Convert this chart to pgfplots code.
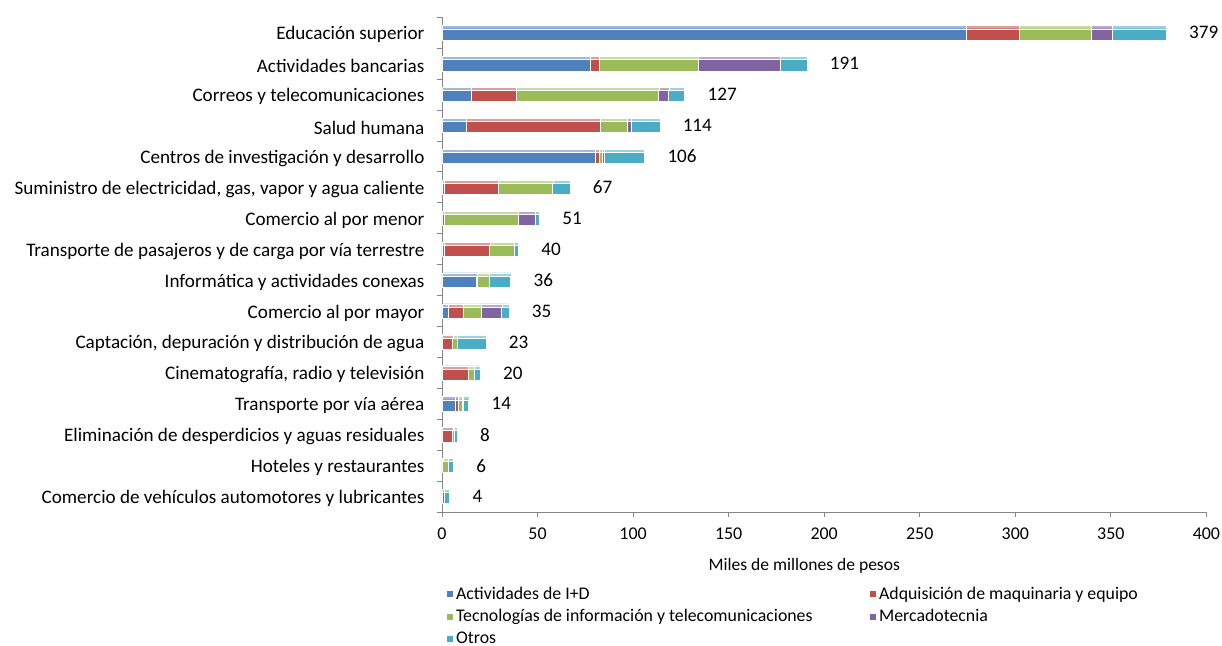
\documentclass[border=0pt]{standalone}
\usepackage{fontspec}
\setmainfont{Carlito}
\usepackage{pgfplots}
\pgfplotsset{compat=1.18}
\usepackage{pgfplotstable}

\definecolor{cID}{HTML}{4F81BD}
\definecolor{cMaq}{HTML}{C0504D}
\definecolor{cTic}{HTML}{9BBB59}
\definecolor{cMer}{HTML}{8064A2}
\definecolor{cOtr}{HTML}{4BACC6}
\definecolor{axgray}{RGB}{134,134,134}

% miles de millones de pesos, por sector (0 = arriba)
\pgfplotstableread{
y  id    maq   tic   merc  otros total
0  274.4 27.9  37.4  11.0  28.3  379
1  77.6  4.9   51.7  42.6  14.2  191
2  15.2  23.6  74.6  5.3   8.3   127
3  12.6  70.4  14.0  2.1   14.9  114
4  80.4  2.1   1.3   1.3   20.9  106
5  1.0   28.5  28.5  0.0   9.0   67
6  0.0   1.0   39.0  9.0   2.0   51
7  1.0   24.0  13.0  0.0   2.0   40
8  18.2  0.3   6.3   0.0   11.2  36
9  3.5   7.7   9.2   10.9  3.7   35
10 0.3   5.3   2.6   0.0   14.8  23
11 0.3   13.5  3.2   0.0   3.0   20
12 6.8   1.8   2.2   0.5   2.7   14
13 0.3   5.3   0.9   0.0   1.5   8
14 0.2   0.2   3.1   0.0   2.5   6
15 0.0   1.2   0.2   0.0   2.6   4
}\datos

\pgfplotsset{
  marco/.style={
    scale only axis,
    width=573.3bp, height=371bp,
    xmin=0, xmax=400,
    ymin=-0.5, ymax=15.5, y dir=reverse,
  },
}

\begin{document}
\begin{tikzpicture}
\path[use as bounding box] (-331.5bp,-100.5bp) rectangle ++(916.5bp,484.5bp);
\begin{axis}[
  marco, xbar stacked,
  bar width=10.75bp,
  axis x line*=bottom, axis y line*=left,
  axis line style={draw=axgray, line width=0.7bp},
  tick style={draw=axgray, line width=0.7bp},
  tick align=outside,
  major tick length=4bp, minor tick length=4bp,
  xtick={0,50,...,400},
  ytick={0,...,15},
  major y tick style={draw=none},
  minor ytick={-0.5,0.5,...,15.5},
  yticklabels={
    Educación superior,
    Actividades bancarias,
    Correos y telecomunicaciones,
    Salud humana,
    Centros de investigación y desarrollo,
    {Suministro de electricidad, gas, vapor y agua caliente},
    Comercio al por menor,
    Transporte de pasajeros y de carga por vía terrestre,
    Informática y actividades conexas,
    Comercio al por mayor,
    {Captación, depuración y distribución de agua},
    {Cinematografía, radio y televisión},
    Transporte por vía aérea,
    Eliminación de desperdicios y aguas residuales,
    Hoteles y restaurantes,
    Comercio de vehículos automotores y lubricantes},
  xticklabel style={font=\fontsize{13.5}{16}\selectfont, anchor=north,
    inner sep=0pt, yshift=-8bp},
  yticklabel style={font=\fontsize{14.4}{17}\selectfont, anchor=east,
    inner sep=0pt, xshift=-9bp, yshift=-1.5bp},
  /pgf/number format/assume math mode=true,
  xlabel={Miles de millones de pesos},
  xlabel style={at={(axis description cs:0.474,0)}, anchor=center, yshift=-40bp,
    font=\fontsize{13.2}{16}\selectfont},
  legend columns=2,
  legend cell align=left,
  legend style={at={(axis description cs:0,0)}, anchor=north west,
    xshift=3bp, yshift=-54.5bp, draw=none, fill=none, inner sep=0pt,
    font=\fontsize{13.4}{16}\selectfont, row sep=3.2bp,
    nodes={inner sep=1.5bp},
    /tikz/every even column/.append style={column sep=41bp}},
  legend image code/.code={\fill[#1] (0bp,-2.7bp) rectangle (5.4bp,2.7bp);},
]
\addplot[fill=cID, draw=white, line width=0.5bp] table[x=id, y=y] {\datos};
\addlegendentry{Actividades de I+D}
\addplot[fill=cMaq, draw=white, line width=0.5bp] table[x=maq, y=y] {\datos};
\addlegendentry{Adquisición de maquinaria y equipo}
\addplot[fill=cTic, draw=white, line width=0.5bp] table[x=tic, y=y] {\datos};
\addlegendentry{Tecnologías de información y telecomunicaciones}
\addplot[fill=cMer, draw=white, line width=0.5bp] table[x=merc, y=y] {\datos};
\addlegendentry{Mercadotecnia}
\addplot[fill=cOtr, draw=white, line width=0.5bp] table[x=otros, y=y] {\datos};
\addlegendentry{Otros}
\end{axis}
% cara superior (efecto 3D)
\begin{axis}[
  marco, xbar stacked, hide axis,
  bar width=2.3bp, bar shift=4.2bp,
]
\addplot[fill=cID!55!white, draw=white, line width=0.3bp] table[x=id, y=y] {\datos};
\addplot[fill=cMaq!55!white, draw=white, line width=0.3bp] table[x=maq, y=y] {\datos};
\addplot[fill=cTic!55!white, draw=white, line width=0.3bp] table[x=tic, y=y] {\datos};
\addplot[fill=cMer!55!white, draw=white, line width=0.3bp] table[x=merc, y=y] {\datos};
\addplot[fill=cOtr!55!white, draw=white, line width=0.3bp] table[x=otros, y=y] {\datos};
\end{axis}
% totales
\begin{axis}[marco, hide axis]
\addplot[only marks, mark=none,
  point meta=explicit symbolic, nodes near coords,
  nodes near coords style={anchor=west, inner sep=0pt, xshift=17bp,
    font=\fontsize{14.4}{17}\selectfont, text=black}]
  table[x=total, y=y, meta=total] {\datos};
\end{axis}
\end{tikzpicture}
\end{document}
